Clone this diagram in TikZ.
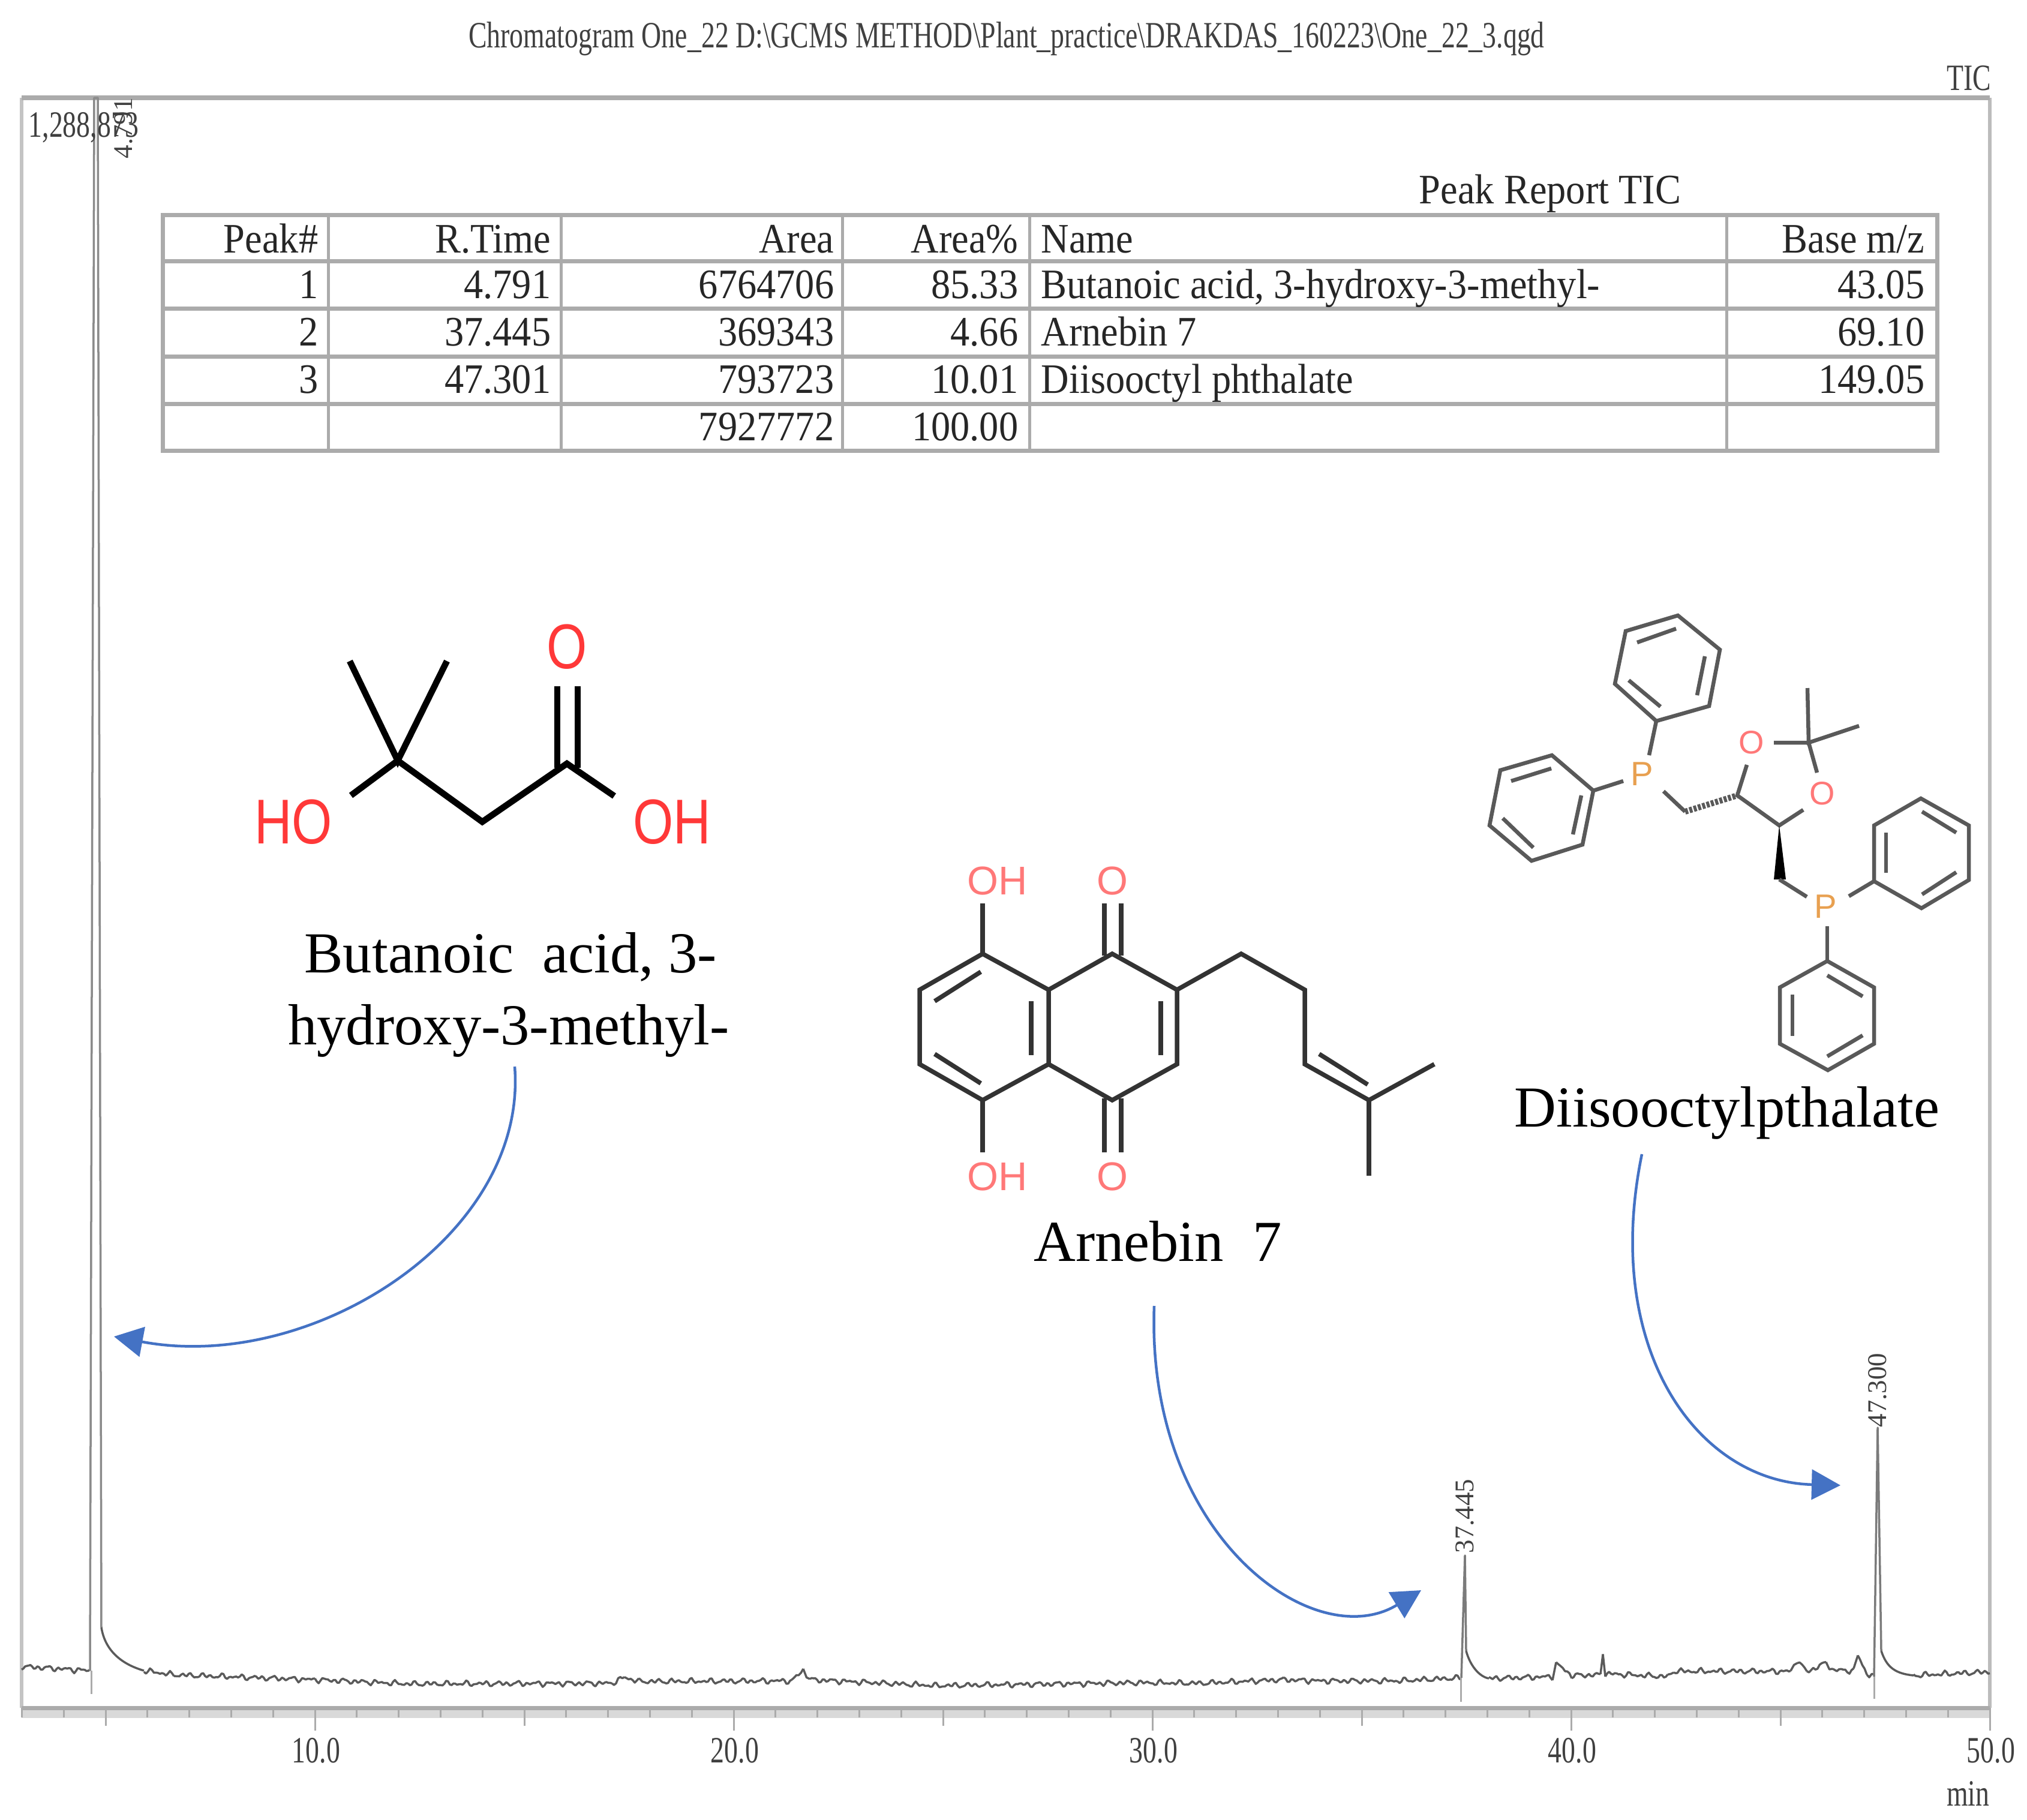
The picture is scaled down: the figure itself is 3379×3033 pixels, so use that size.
\documentclass[tikz,border=0pt]{standalone}
\usepackage{fontspec}
\setmainfont{Liberation Serif}
\newfontfamily\atomfont{Liberation Sans}
\newfontfamily\tablefont[FakeStretch=0.92]{Liberation Serif}
\newfontfamily\narrowfont[FakeStretch=0.74]{Liberation Serif}
\newfontfamily\atomnarrow[FakeStretch=0.82]{Liberation Sans}
\usetikzlibrary{arrows.meta}
\definecolor{framegray}{HTML}{ABABAB}
\definecolor{signalgray}{HTML}{5A5A5A}
\definecolor{arrowblue}{HTML}{4472C4}
\definecolor{boldred}{HTML}{FF3838}
\definecolor{softred}{HTML}{FF7878}
\definecolor{softorange}{HTML}{E8A050}
\begin{document}
\begin{tikzpicture}[
    x=0.01cm,
    y=-0.01cm,
    declare function={
        noisy(\v)=2.2*sin(mod(\v,17)*360/17)+2*sin(mod(\v,29)*360/29)+1.7*sin(mod(\v,11)*360/11);
    },
    cell/.style={
        inner sep=0pt,
        anchor=base east,
        font=\tablefont\fontsize{19.9}{24}\selectfont,
        text=black!85
    },
    namecell/.style={
        cell,
        anchor=base west
    },
    plotlabel/.style={
        inner sep=0pt,
        font=\narrowfont\fontsize{17.6}{20}\selectfont,
        text=black!75
    },
    peaklabel/.style={
        inner sep=0pt,
        anchor=west,
        rotate=90,
        font=\fontsize{12.8}{14}\selectfont,
        text=black!75
    },
    caption/.style={
        inner sep=0pt,
        anchor=base,
        font=\fontsize{27.5}{32}\selectfont
    },
    gridline/.style={
        draw=framegray,
        line width=0.07cm
    },
    bond/.style={
        line width=0.075cm,
        draw=black!80,
        line join=miter
    },
    thinbond/.style={
        line width=0.065cm,
        draw=black!65
    },
    boldbond/.style={
        line width=0.105cm,
        draw=black
    },
    signal/.style={
        line width=0.035cm,
        draw=signalgray,
        line join=round
    },
    pointer/.style={
        line width=0.045cm,
        draw=arrowblue,
        -{Triangle[length=0.48cm,width=0.5cm,fill=arrowblue]}
    }
]
\useasboundingbox (0,0) rectangle (3379,3033);

% Titles
\node[plotlabel, anchor=base, text=black!75] (title) at (1678,79) {Chromatogram One\_22 D:\textbackslash GCMS METHOD\textbackslash Plant\_practice\textbackslash DRAKDAS\_160223\textbackslash One\_22\_3.qgd};
\node[plotlabel, anchor=base east] (tic) at (3320,150) {TIC};
\node[cell, anchor=base] (report) at (2584,339) {Peak Report TIC};

% Frame
\draw[framegray!70, line width=0.06cm] (36,163) -- (36,2847);
\draw[framegray!80, line width=0.06cm] (3317,163) -- (3317,2847);
\draw[framegray, line width=0.08cm] (36,163) -- (3317,163);
\draw[framegray!45, line width=0.14cm] (36,2857) -- (3317,2857);
\draw[framegray, line width=0.07cm] (36,2847) -- (3317,2847);

% Ticks
\foreach \t in {3,...,50}
    \draw[framegray, line width=0.03cm] ({525+69.8*(\t-10)},2847) -- ++(0,16);
\foreach \t in {5,15,...,45}
    \draw[framegray, line width=0.03cm] ({525+69.8*(\t-10)},2847) -- ++(0,30);
\foreach \t in {10,20,...,50} {
    \draw[framegray, line width=0.03cm] ({525+69.8*(\t-10)},2847) -- ++(0,38);
    \node[plotlabel, anchor=base] (tick\t) at ({525+69.8*(\t-10)+2},2938) {\t.0};
}
\node[plotlabel, anchor=base east] (minutes) at (3317,3010) {min};

% Signal
\foreach \xb/\yb [remember=\xb as \xa (initially 36), remember=\yb as \ya (initially 2778)] in {150/2785} {
    \draw[signal] plot[domain=\xa:\xb, samples=40] (\x,{\ya+(\yb-\ya)*(\x-\xa)/(\xb-\xa)+noisy(\x)});
}
\draw[signal, draw=signalgray!70] (150,2785) -- (157,163) -- (163,163) -- (169,2713);
\draw[signal] (169,2713) .. controls (174,2745) and (195,2772) .. (240,2785);
\foreach \xb/\yb [remember=\xb as \xa (initially 240), remember=\yb as \ya (initially 2785)] in {
    290/2792, 525/2800, 680/2807, 1020/2806, 1041/2796, 1065/2803, 1320/2802, 1339/2784, 1350/2800, 1560/2810,
    1900/2805, 2000/2806, 2140/2800, 2200/2802, 2330/2802, 2436/2797} {
    \pgfmathtruncatemacro{\n}{max(2,(\xb-\xa)/3)}
    \draw[signal] plot[domain=\xa:\xb, samples=\n] (\x,{\ya+(\yb-\ya)*(\x-\xa)/(\xb-\xa)+noisy(\x)});
}
\draw[signal, draw=signalgray!80] (2436,2797) -- (2442,2593) -- (2444,2752);
\draw[signal] (2444,2752) .. controls (2450,2775) and (2465,2795) .. (2482,2798);
\foreach \xb/\yb [remember=\xb as \xa (initially 2482), remember=\yb as \ya (initially 2798)] in {
    2588/2795, 2594/2773, 2620/2793, 2668/2792, 2672/2755, 2676/2790, 2780/2795, 2790/2786, 2985/2786,
    2996/2767, 3012/2787, 3044/2772, 3055/2784, 3090/2785, 3097/2760, 3112/2790, 3124/2795} {
    \pgfmathtruncatemacro{\n}{max(2,(\xb-\xa)/3)}
    \draw[signal] plot[domain=\xa:\xb, samples=\n] (\x,{\ya+(\yb-\ya)*(\x-\xa)/(\xb-\xa)+noisy(\x)});
}
\draw[signal, draw=signalgray!80] (3124,2795) -- (3130,2380) -- (3136,2752);
\draw[signal] (3136,2752) .. controls (3145,2780) and (3160,2790) .. (3190,2793);
\foreach \xb/\yb [remember=\xb as \xa (initially 3190), remember=\yb as \ya (initially 2793)] in {3317/2787} {
    \draw[signal] plot[domain=\xa:\xb, samples=45] (\x,{\ya+(\yb-\ya)*(\x-\xa)/(\xb-\xa)+noisy(\x)});
}

% Peak markers
\draw[framegray, line width=0.03cm] (152,2785) -- (152,2824);
\draw[framegray, line width=0.03cm] (2435,2797) -- (2435,2837);
\draw[framegray, line width=0.03cm] (3124,2795) -- (3124,2832);

% Peak labels
\node[plotlabel, anchor=base west, fill=none] (height) at (47,228) {1,288,873};
\node[peaklabel] (peakone) at (206,265) {4.791};
\node[peaklabel] (peaktwo) at (2442,2590) {37.445};
\node[peaklabel] (peakthree) at (3130,2380) {47.300};

% Table
\draw[gridline] (271,358) rectangle (3229,751);
\foreach \y in {435,514,594,673}
    \draw[gridline] (271,\y) -- (3229,\y);
\foreach \x in {547,935,1404,1716,2878}
    \draw[gridline, line width=0.05cm] (\x,358) -- (\x,751);
\foreach \r/\y/\pk/\rt/\ar/\pc/\mz in {
    0/421/Peak\#/R.Time/Area/Area\%/Base m\slash z,
    1/497/1/4.791/6764706/85.33/43.05,
    2/576/2/37.445/369343/4.66/69.10,
    3/655/3/47.301/793723/10.01/149.05} {
    \node[cell] (pk\r) at (531,\y) {\pk};
    \node[cell] (rt\r) at (919,\y) {\rt};
    \node[cell] (ar\r) at (1391,\y) {\ar};
    \node[cell] (pc\r) at (1698,\y) {\pc};
    \node[cell] (mz\r) at (3209,\y) {\mz};
}
\node[namecell] (name0) at (1735,421) {Name};
\node[namecell] (name1) at (1735,497) {Butanoic acid, 3-hydroxy-3-methyl-};
\node[namecell] (name2) at (1735,576) {Arnebin 7};
\node[namecell] (name3) at (1735,655) {Diisooctyl phthalate};
\node[cell] (total) at (1391,734) {7927772};
\node[cell] (percent) at (1698,734) {100.00};

% Butanoic acid
\coordinate (b1) at (663,1268);
\coordinate (b2) at (804,1370);
\coordinate (b3) at (945,1273);
\coordinate (bme1) at (583,1102);
\coordinate (bme2) at (745,1102);
\coordinate (bho) at (585,1326);
\coordinate (boh) at (1024,1327);
\draw[boldbond] (bme1) -- (b1) -- (bme2);
\draw[boldbond] (bho) -- (b1) -- (b2) -- (b3) -- (boh);
\draw[boldbond] (929,1144) -- (929,1280);
\draw[boldbond] (963,1144) -- (963,1280);
\node[inner sep=0pt, text=boldred, font=\atomnarrow\fontsize{30}{32}\selectfont] (bo) at (945,1078) {O};
\node[inner sep=0pt, text=boldred, font=\atomnarrow\fontsize{30}{32}\selectfont] (bhotext) at (489,1370) {HO};
\node[inner sep=0pt, text=boldred, font=\atomnarrow\fontsize{30}{32}\selectfont] (bohtext) at (1120,1370) {OH};
\node[caption] (bname1) at (851,1621) {Butanoic\ \ acid, 3-};
\node[caption] (bname2) at (848,1741) {hydroxy-3-methyl-};

% Arnebin
\coordinate (a1) at (1638,1590);
\coordinate (a2) at (1533,1650);
\coordinate (a3) at (1533,1774);
\coordinate (a4) at (1638,1834);
\coordinate (a5) at (1748,1774);
\coordinate (a6) at (1748,1650);
\coordinate (a7) at (1854,1590);
\coordinate (a8) at (1962,1650);
\coordinate (a9) at (1962,1774);
\coordinate (a10) at (1854,1834);
\coordinate (c1) at (2069,1590);
\coordinate (c2) at (2175,1650);
\coordinate (c3) at (2175,1774);
\coordinate (c4) at (2282,1834);
\coordinate (c5) at (2391,1774);
\coordinate (c6) at (2282,1960);
\coordinate (aoh1) at (1638,1506);
\coordinate (aoh2) at (1638,1921);
\draw[bond] (a1) -- (a2) -- (a3) -- (a4) -- (a5) -- (a6) -- cycle;
\draw[bond] (a6) -- (a7) -- (a8) -- (a9) -- (a10) -- (a5);
\draw[bond] (a8) -- (c1) -- (c2) -- (c3) -- (c4) -- (c5);
\draw[bond] (c4) -- (c6);
\draw[bond] (a1) -- (aoh1);
\draw[bond] (a4) -- (aoh2);
\draw[bond] (1635,1620) -- (1558,1669);
\draw[bond] (1558,1757) -- (1635,1806);
\draw[bond] (1719,1669) -- (1719,1759);
\draw[bond] (1935,1669) -- (1935,1759);
\draw[bond] (2199,1757) -- (2280,1808);
\draw[bond] (1841,1506) -- (1841,1593);
\draw[bond] (1869,1506) -- (1869,1593);
\draw[bond] (1841,1831) -- (1841,1921);
\draw[bond] (1869,1831) -- (1869,1921);
\node[inner sep=0pt, text=softred, font=\atomfont\fontsize{19}{21}\selectfont] (aohtext1) at (1663,1468) {OH};
\node[inner sep=0pt, text=softred, font=\atomfont\fontsize{19}{21}\selectfont] (aohtext2) at (1663,1961) {OH};
\node[inner sep=0pt, text=softred, font=\atomfont\fontsize{19}{21}\selectfont] (ao1) at (1854,1468) {O};
\node[inner sep=0pt, text=softred, font=\atomfont\fontsize{19}{21}\selectfont] (ao2) at (1854,1961) {O};
\node[caption] (aname) at (1930,2102) {Arnebin\ \ 7};

% Phosphine
\coordinate (r1) at (2797,1026);
\coordinate (r2) at (2867,1083);
\coordinate (r3) at (2849,1177);
\coordinate (r4) at (2761,1202);
\coordinate (r5) at (2692,1140);
\coordinate (r6) at (2710,1052);
\draw[thinbond] (r1) -- (r2) -- (r3) -- (r4) -- (r5) -- (r6) -- cycle;
\draw[thinbond] (2729,1071) -- (2794,1048);
\draw[thinbond] (2842,1094) -- (2829,1159);
\draw[thinbond] (2715,1134) -- (2768,1178);
\coordinate (s1) at (2656,1318);
\coordinate (s2) at (2587,1259);
\coordinate (s3) at (2501,1284);
\coordinate (s4) at (2483,1376);
\coordinate (s5) at (2553,1435);
\coordinate (s6) at (2638,1408);
\draw[thinbond] (s1) -- (s2) -- (s3) -- (s4) -- (s5) -- (s6) -- cycle;
\draw[thinbond] (2519,1302) -- (2586,1281);
\draw[thinbond] (2636,1326) -- (2622,1391);
\draw[thinbond] (2505,1364) -- (2556,1413);
\coordinate (u1) at (3124,1469);
\coordinate (u2) at (3124,1376);
\coordinate (u3) at (3202,1331);
\coordinate (u4) at (3282,1376);
\coordinate (u5) at (3282,1467);
\coordinate (u6) at (3203,1514);
\draw[thinbond] (u1) -- (u2) -- (u3) -- (u4) -- (u5) -- (u6) -- cycle;
\draw[thinbond] (3144,1388) -- (3144,1455);
\draw[thinbond] (3204,1353) -- (3261,1388);
\draw[thinbond] (3204,1491) -- (3261,1454);
\coordinate (v1) at (3046,1602);
\coordinate (v2) at (3124,1646);
\coordinate (v3) at (3124,1740);
\coordinate (v4) at (3047,1784);
\coordinate (v5) at (2967,1740);
\coordinate (v6) at (2967,1646);
\draw[thinbond] (v1) -- (v2) -- (v3) -- (v4) -- (v5) -- (v6) -- cycle;
\draw[thinbond] (3046,1626) -- (3105,1661);
\draw[thinbond] (3105,1726) -- (3046,1761);
\draw[thinbond] (2988,1658) -- (2988,1727);
\coordinate (p1top) at (2749,1259);
\coordinate (p1left) at (2706,1302);
\coordinate (p1right) at (2773,1319);
\coordinate (ch1) at (2809,1353);
\coordinate (d1) at (2896,1326);
\coordinate (d1o) at (2912,1275);
\coordinate (d2o) at (2957,1238);
\coordinate (d3) at (3015,1238);
\coordinate (d3o) at (3029,1288);
\coordinate (d4o) at (3006,1350);
\coordinate (d5) at (2966,1376);
\coordinate (me1) at (3013,1147);
\coordinate (me2) at (3099,1210);
\coordinate (ch2) at (2966,1466);
\coordinate (p2in) at (3012,1495);
\coordinate (p2right) at (3082,1494);
\coordinate (p2down) at (3046,1544);
\draw[thinbond] (r4) -- (p1top);
\draw[thinbond] (p1left) -- (s1);
\draw[thinbond] (p1right) -- (ch1);
\draw[thinbond, line width=0.1cm, dash pattern=on 0.05cm off 0.025cm] (ch1) -- (d1);
\draw[thinbond] (d1o) -- (d1) -- (d5) -- (d4o);
\draw[thinbond] (d2o) -- (d3) -- (d3o);
\draw[thinbond] (me1) -- (d3) -- (me2);
\fill[black] (d5) -- (2957,1466) -- (2977,1466) -- cycle;
\draw[thinbond] (ch2) -- (p2in);
\draw[thinbond] (p2right) -- (u1);
\draw[thinbond] (p2down) -- (v1);
\node[inner sep=0pt, text=softorange, font=\atomfont\fontsize{16}{18}\selectfont] (p1) at (2737,1290) {P};
\node[inner sep=0pt, text=softorange, font=\atomfont\fontsize{16}{18}\selectfont] (p2) at (3043,1511) {P};
\node[inner sep=0pt, text=softred, font=\atomfont\fontsize{15.5}{18}\selectfont] (o1) at (2920,1238) {O};
\node[inner sep=0pt, text=softred, font=\atomfont\fontsize{15.5}{18}\selectfont] (o2) at (3038,1323) {O};
\node[caption] (dname) at (2879,1878) {Diisooctylpthalate};

% Arrows
\coordinate (tipone) at (190,2228);
\coordinate (tiptwo) at (2369,2651);
\coordinate (tipthree) at (3068,2476);
\draw[pointer] (858,1778) .. controls (880,2060) and (520,2290) .. (tipone);
\draw[pointer] (1924,2177) .. controls (1910,2560) and (2190,2760) .. (tiptwo);
\draw[pointer] (2737,1924) .. controls (2670,2250) and (2830,2470) .. (tipthree);

\end{tikzpicture}
\end{document}
